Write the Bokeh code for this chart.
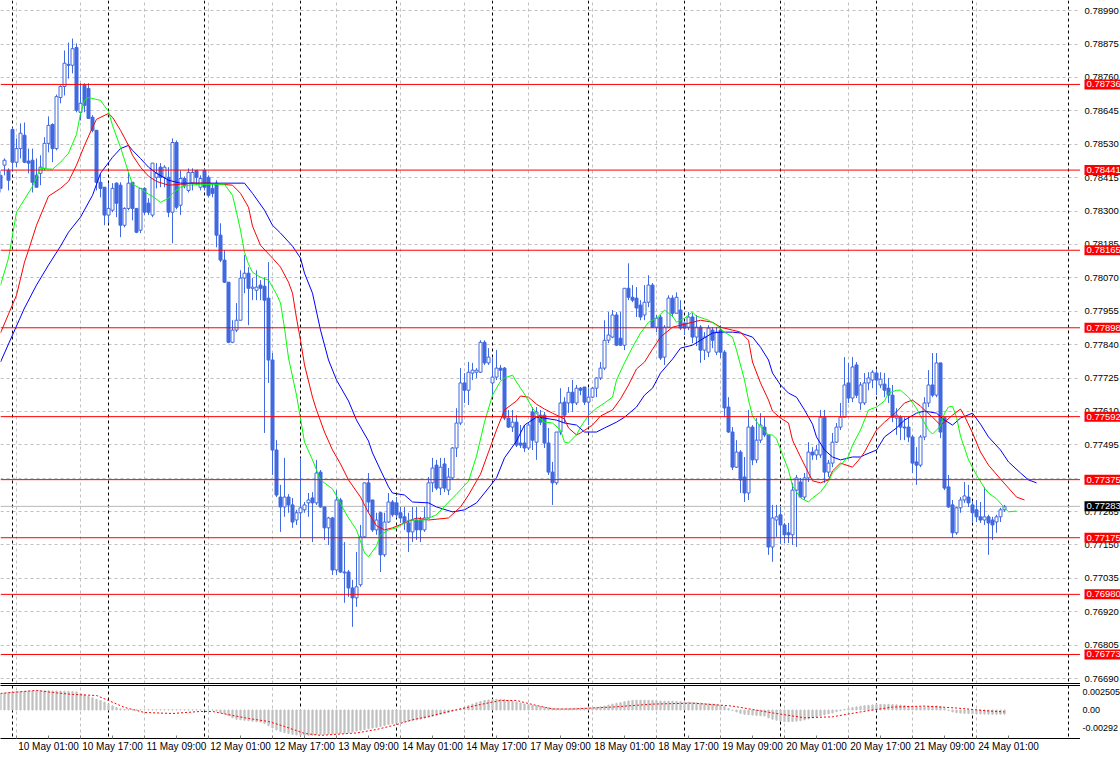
from bokeh.plotting import figure
from bokeh.layouts import column, row
from bokeh.models import Range1d, FixedTicker, Span, ColumnDataSource, LinearAxis
from bokeh.core.properties import value
from bokeh.embed import file_html
from bokeh.resources import INLINE

# ---------------- data (H1 bars, index 0 = 10 May 00:00) ----------------
first_bar = -3
opens = [
 0.78423,0.78458,0.78440,0.78581,0.78468,0.78515,0.78561,0.78472,0.78475,0.78423,
 0.78430,0.78447,0.78533,0.78598,0.78515,0.78691,0.78729,0.78805,0.78802,0.78863,
 0.78640,0.78733,0.78722,0.78623,0.78578,0.78399,0.78382,0.78286,0.78303,0.78396,
 0.78389,0.78251,0.78309,0.78399,0.78309,0.78234,0.78378,0.78327,0.78286,0.78416,
 0.78451,0.78416,0.78416,0.78296,0.78536,0.78320,0.78412,0.78371,0.78396,0.78440,
 0.78382,0.78440,0.78416,0.78378,0.78396,0.78217,0.78131,0.78055,0.77848,0.77890,
 0.77924,0.78069,0.78086,0.78034,0.78027,0.78045,0.78041,0.78000,0.77787,0.77477,
 0.77315,0.77281,0.77315,0.77288,0.77236,0.77261,0.77271,0.77295,0.77312,0.77295,
 0.77401,0.77281,0.77209,0.77243,0.77064,0.77305,0.77057,0.77057,0.77002,0.76968,
 0.77013,0.77178,0.77364,0.77305,0.77202,0.77261,0.77116,0.77229,0.77298,0.77295,
 0.77261,0.77247,0.77226,0.77195,0.77236,0.77236,0.77202,0.77243,0.77364,0.77425,
 0.77346,0.77429,0.77339,0.77381,0.77484,0.77570,0.77708,0.77683,0.77742,0.77745,
 0.77745,0.77848,0.77777,0.77708,0.77728,0.77759,0.77759,0.77587,0.77556,0.77573,
 0.77501,0.77501,0.77484,0.77608,0.77504,0.77597,0.77597,0.77501,0.77401,0.77364,
 0.77539,0.77642,0.77639,0.77676,0.77639,0.77690,0.77694,0.77642,0.77659,0.77690,
 0.77725,0.77759,0.77855,0.77866,0.77942,0.77862,0.77838,0.78034,0.78003,0.78000,
 0.77976,0.77942,0.77986,0.78045,0.77900,0.77935,0.77797,0.77900,0.78000,0.77948,
 0.77959,0.77914,0.77900,0.77935,0.77866,0.77900,0.77821,0.77814,0.77890,0.77814,
 0.77890,0.77814,0.77625,0.77539,0.77418,0.77470,0.77384,0.77329,0.77556,0.77443,
 0.77511,0.77556,0.77529,0.77143,0.77236,0.77254,0.77219,0.77192,0.77185,0.77339,
 0.77367,0.77315,0.77381,0.77470,0.77460,0.77460,0.77590,0.77401,0.77432,0.77504,
 0.77556,0.77590,0.77708,0.77656,0.77770,0.77639,0.77639,0.77708,0.77718,0.77742,
 0.77701,0.77704,0.77690,0.77666,0.77587,0.77590,0.77556,0.77556,0.77522,0.77436,
 0.77425,0.77522,0.77639,0.77701,0.77666,0.77777,0.77590,0.77350,0.77288,0.77192,
 0.77278,0.77305,0.77315,0.77288,0.77271,0.77247,0.77236,0.77247,0.77236,0.77229,
 0.77247,0.77271]
highs = [
 0.78440,0.78481,0.78447,0.78588,0.78550,0.78602,0.78605,0.78515,0.78515,0.78481,
 0.78492,0.78554,0.78626,0.78602,0.78701,0.78733,0.78853,0.78880,0.78894,0.78877,
 0.78740,0.78740,0.78740,0.78630,0.78578,0.78430,0.78382,0.78396,0.78396,0.78399,
 0.78399,0.78313,0.78433,0.78399,0.78309,0.78378,0.78382,0.78344,0.78465,0.78465,
 0.78465,0.78458,0.78451,0.78550,0.78543,0.78440,0.78419,0.78447,0.78447,0.78440,
 0.78423,0.78447,0.78423,0.78396,0.78406,0.78258,0.78165,0.78055,0.77924,0.77983,
 0.78096,0.78148,0.78107,0.78069,0.78096,0.78062,0.78072,0.78124,0.77811,0.77511,
 0.77357,0.77450,0.77325,0.77312,0.77271,0.77450,0.77298,0.77329,0.77332,0.77443,
 0.77408,0.77281,0.77247,0.77247,0.77339,0.77312,0.77160,0.77064,0.77030,0.77126,
 0.77219,0.77364,0.77398,0.77305,0.77261,0.77264,0.77261,0.77329,0.77305,0.77315,
 0.77281,0.77281,0.77261,0.77281,0.77281,0.77247,0.77281,0.77384,0.77450,0.77443,
 0.77450,0.77450,0.77415,0.77487,0.77621,0.77759,0.77742,0.77780,0.77777,0.77759,
 0.77855,0.77855,0.77828,0.77794,0.77821,0.77770,0.77763,0.77615,0.77615,0.77597,
 0.77563,0.77563,0.77570,0.77625,0.77625,0.77615,0.77608,0.77553,0.77436,0.77539,
 0.77690,0.77659,0.77694,0.77718,0.77701,0.77694,0.77694,0.77690,0.77694,0.77728,
 0.77780,0.77924,0.77952,0.77959,0.77952,0.77952,0.78034,0.78120,0.78045,0.78038,
 0.77993,0.78045,0.78079,0.78052,0.77942,0.77942,0.77907,0.78010,0.78010,0.78020,
 0.77993,0.77917,0.77952,0.77948,0.77942,0.77907,0.77883,0.77907,0.77900,0.77900,
 0.77907,0.77821,0.77659,0.77556,0.77511,0.77477,0.77453,0.77615,0.77563,0.77587,
 0.77604,0.77590,0.77529,0.77288,0.77288,0.77281,0.77226,0.77226,0.77364,0.77391,
 0.77381,0.77398,0.77504,0.77487,0.77494,0.77615,0.77615,0.77443,0.77536,0.77570,
 0.77639,0.77797,0.77777,0.77797,0.77780,0.77711,0.77742,0.77745,0.77752,0.77752,
 0.77745,0.77742,0.77725,0.77701,0.77621,0.77597,0.77590,0.77590,0.77529,0.77487,
 0.77529,0.77659,0.77752,0.77811,0.77811,0.77777,0.77590,0.77391,0.77305,0.77281,
 0.77315,0.77367,0.77357,0.77298,0.77305,0.77298,0.77350,0.77254,0.77247,0.77254,
 0.77278,0.77288]
lows = [
 0.78364,0.78423,0.78371,0.78440,0.78451,0.78481,0.78465,0.78430,0.78364,0.78382,
 0.78389,0.78440,0.78502,0.78468,0.78509,0.78671,0.78698,0.78756,0.78774,0.78640,
 0.78612,0.78640,0.78619,0.78571,0.78371,0.78347,0.78251,0.78258,0.78296,0.78279,
 0.78210,0.78244,0.78303,0.78268,0.78224,0.78224,0.78286,0.78286,0.78279,0.78378,
 0.78382,0.78382,0.78279,0.78189,0.78306,0.78286,0.78378,0.78364,0.78371,0.78389,
 0.78371,0.78371,0.78347,0.78347,0.78175,0.78124,0.78052,0.77845,0.77845,0.77883,
 0.77924,0.78017,0.77907,0.77993,0.77993,0.77993,0.77536,0.77708,0.77391,0.77315,
 0.77195,0.77247,0.77261,0.77209,0.77219,0.77174,0.77261,0.77247,0.77160,0.77288,
 0.77278,0.77167,0.77150,0.77047,0.77047,0.77054,0.76951,0.76971,0.76868,0.76937,
 0.77006,0.77174,0.77261,0.77195,0.77185,0.77057,0.77109,0.77226,0.77247,0.77243,
 0.77226,0.77202,0.77126,0.77160,0.77167,0.77160,0.77195,0.77243,0.77332,0.77339,
 0.77322,0.77332,0.77322,0.77374,0.77453,0.77563,0.77639,0.77632,0.77718,0.77725,
 0.77742,0.77770,0.77770,0.77666,0.77718,0.77718,0.77580,0.77553,0.77539,0.77487,
 0.77484,0.77470,0.77477,0.77477,0.77443,0.77563,0.77484,0.77391,0.77288,0.77357,
 0.77529,0.77570,0.77605,0.77608,0.77632,0.77666,0.77632,0.77563,0.77656,0.77659,
 0.77718,0.77752,0.77845,0.77862,0.77835,0.77835,0.77821,0.77993,0.77986,0.77935,
 0.77924,0.77924,0.77969,0.77897,0.77883,0.77787,0.77770,0.77900,0.77935,0.77948,
 0.77890,0.77873,0.77890,0.77845,0.77835,0.77777,0.77787,0.77797,0.77828,0.77804,
 0.77794,0.77590,0.77536,0.77408,0.77415,0.77329,0.77298,0.77305,0.77425,0.77432,
 0.77501,0.77522,0.77116,0.77092,0.77178,0.77157,0.77157,0.77157,0.77150,0.77143,
 0.77312,0.77305,0.77367,0.77443,0.77443,0.77450,0.77364,0.77384,0.77418,0.77501,
 0.77546,0.77590,0.77639,0.77642,0.77656,0.77615,0.77632,0.77683,0.77690,0.77666,
 0.77690,0.77659,0.77639,0.77573,0.77529,0.77511,0.77511,0.77504,0.77398,0.77357,
 0.77418,0.77511,0.77625,0.77659,0.77659,0.77518,0.77339,0.77278,0.77174,0.77185,
 0.77261,0.77295,0.77281,0.77229,0.77229,0.77226,0.77219,0.77116,0.77167,0.77192,
 0.77229,0.77264]
closes = [
 0.78378,0.78475,0.78406,0.78468,0.78515,0.78568,0.78468,0.78465,0.78399,0.78382,
 0.78451,0.78533,0.78595,0.78515,0.78694,0.78729,0.78809,0.78802,0.78859,0.78647,
 0.78671,0.78664,0.78619,0.78578,0.78399,0.78378,0.78286,0.78309,0.78378,0.78327,
 0.78251,0.78309,0.78396,0.78309,0.78227,0.78378,0.78296,0.78296,0.78465,0.78430,
 0.78416,0.78451,0.78296,0.78536,0.78313,0.78412,0.78389,0.78433,0.78433,0.78416,
 0.78412,0.78382,0.78354,0.78361,0.78217,0.78131,0.78055,0.77848,0.77890,0.77924,
 0.78069,0.78086,0.78034,0.78038,0.78038,0.78034,0.77993,0.77787,0.77477,0.77322,
 0.77281,0.77315,0.77288,0.77229,0.77261,0.77278,0.77288,0.77305,0.77295,0.77398,
 0.77281,0.77209,0.77243,0.77064,0.77305,0.77057,0.77054,0.77002,0.76968,0.77006,
 0.77178,0.77364,0.77298,0.77202,0.77236,0.77116,0.77229,0.77298,0.77254,0.77254,
 0.77243,0.77226,0.77195,0.77236,0.77202,0.77202,0.77243,0.77364,0.77415,0.77346,
 0.77418,0.77346,0.77384,0.77484,0.77570,0.77708,0.77683,0.77745,0.77752,0.77752,
 0.77848,0.77777,0.77797,0.77728,0.77759,0.77752,0.77587,0.77556,0.77573,0.77494,
 0.77494,0.77484,0.77563,0.77511,0.77608,0.77573,0.77501,0.77401,0.77364,0.77539,
 0.77639,0.77597,0.77676,0.77639,0.77690,0.77683,0.77642,0.77659,0.77690,0.77725,
 0.77759,0.77855,0.77873,0.77942,0.77838,0.77838,0.78034,0.78003,0.77993,0.77966,
 0.77935,0.77986,0.78045,0.77900,0.77931,0.77794,0.77900,0.78000,0.77948,0.78003,
 0.77897,0.77897,0.77935,0.77866,0.77900,0.77821,0.77866,0.77897,0.77855,0.77883,
 0.77814,0.77622,0.77539,0.77418,0.77470,0.77374,0.77329,0.77556,0.77443,0.77511,
 0.77563,0.77529,0.77143,0.77243,0.77247,0.77219,0.77185,0.77185,0.77339,0.77381,
 0.77315,0.77381,0.77470,0.77460,0.77477,0.77590,0.77401,0.77432,0.77504,0.77556,
 0.77590,0.77701,0.77656,0.77763,0.77666,0.77701,0.77708,0.77725,0.77745,0.77718,
 0.77721,0.77683,0.77666,0.77590,0.77597,0.77556,0.77553,0.77522,0.77432,0.77425,
 0.77522,0.77639,0.77701,0.77666,0.77777,0.77539,0.77346,0.77281,0.77192,0.77278,
 0.77305,0.77319,0.77295,0.77261,0.77247,0.77236,0.77247,0.77226,0.77219,0.77247,
 0.77271,0.77283]

# Alligator lines (bar index, value)
lips_bars = [-3,-1,1,5,7,10,12,14,16,17,18,19,22,24,25,27,29,30,32,34,35,37,39,40,42,44,47,50,53,55,56,57,58,59,60,62,64,66,67,68,69,71,73,75,77,80,81,83,84,86,88,89,91,92,94,96,98,99,103,106,110,111,114,116,118,120,122,123,125,126,128,130,132,133,135,137,138,139,141,142,144,146,148,150,151,153,155,157,159,161,163,165,166,168,170,171,174,176,178,180,181,183,184,185,187,189,190,191,193,194,195,197,199,200,202,204,205,207,209,210,212,214,216,218,219,221,222,224,226,227,229,230,232,233,234,235,236,237,239,241,243,244,246,248,249,251]
lips_vals = [0.78045,0.78137,0.78296,0.78385,0.78447,0.78444,0.78468,0.78499,0.78564,0.78636,0.78681,0.78691,0.78681,0.78643,0.78595,0.78519,0.78433,0.78392,0.78378,0.78358,0.78351,0.78330,0.78344,0.78361,0.78382,0.78389,0.78392,0.78392,0.78392,0.78354,0.78296,0.78234,0.78158,0.78117,0.78089,0.78072,0.78062,0.78014,0.77983,0.77897,0.77794,0.77666,0.77504,0.77443,0.77374,0.77343,0.77319,0.77267,0.77243,0.77202,0.77123,0.77109,0.77147,0.77185,0.77202,0.77209,0.77226,0.77236,0.77236,0.77254,0.77312,0.77325,0.77370,0.77456,0.77573,0.77666,0.77714,0.77725,0.77735,0.77711,0.77670,0.77621,0.77584,0.77573,0.77570,0.77546,0.77504,0.77501,0.77529,0.77556,0.77597,0.77621,0.77639,0.77659,0.77718,0.77777,0.77831,0.77880,0.77917,0.77931,0.77959,0.77938,0.77917,0.77931,0.77952,0.77938,0.77924,0.77907,0.77883,0.77866,0.77821,0.77718,0.77649,0.77594,0.77556,0.77529,0.77529,0.77515,0.77443,0.77408,0.77353,0.77312,0.77298,0.77312,0.77332,0.77370,0.77398,0.77425,0.77456,0.77494,0.77546,0.77615,0.77625,0.77646,0.77673,0.77683,0.77683,0.77659,0.77621,0.77594,0.77546,0.77532,0.77560,0.77604,0.77625,0.77628,0.77590,0.77525,0.77443,0.77391,0.77346,0.77329,0.77309,0.77278,0.77264,0.77267]
teeth_bars = [-3,1,3,4,6,9,12,14,16,18,20,21,24,25,27,29,30,32,34,36,39,42,45,49,55,57,59,60,62,65,67,69,70,71,72,73,75,76,78,80,82,84,87,89,91,93,95,98,101,104,109,112,114,117,119,121,123,126,127,129,131,133,135,138,139,141,142,145,147,150,152,154,156,158,160,162,165,167,170,172,175,177,180,182,184,185,187,189,190,192,194,195,197,199,200,202,204,205,207,210,212,213,216,218,221,223,225,227,230,232,233,235,237,238,240,242,244,247,249,251,253]
teeth_vals = [0.77880,0.78010,0.78124,0.78165,0.78251,0.78351,0.78378,0.78402,0.78458,0.78526,0.78588,0.78616,0.78636,0.78623,0.78578,0.78526,0.78492,0.78451,0.78420,0.78402,0.78389,0.78392,0.78396,0.78396,0.78389,0.78361,0.78313,0.78248,0.78182,0.78138,0.78107,0.78055,0.78017,0.77931,0.77855,0.77770,0.77659,0.77615,0.77539,0.77477,0.77429,0.77374,0.77315,0.77261,0.77216,0.77202,0.77209,0.77226,0.77243,0.77236,0.77243,0.77281,0.77322,0.77394,0.77470,0.77546,0.77615,0.77646,0.77663,0.77659,0.77635,0.77618,0.77604,0.77584,0.77553,0.77529,0.77536,0.77563,0.77594,0.77615,0.77653,0.77701,0.77756,0.77780,0.77824,0.77866,0.77900,0.77907,0.77917,0.77924,0.77917,0.77900,0.77890,0.77883,0.77855,0.77780,0.77708,0.77649,0.77611,0.77587,0.77570,0.77511,0.77453,0.77398,0.77371,0.77364,0.77374,0.77405,0.77432,0.77418,0.77450,0.77470,0.77546,0.77573,0.77608,0.77639,0.77649,0.77628,0.77590,0.77563,0.77573,0.77597,0.77618,0.77594,0.77536,0.77470,0.77425,0.77377,0.77346,0.77315,0.77305]
jaw_bars = [-3,0,3,6,9,12,14,17,20,22,25,27,29,30,32,34,36,39,42,47,51,58,60,63,65,67,70,72,73,75,77,79,81,84,86,89,90,92,94,95,98,100,104,106,110,113,116,118,121,123,126,128,131,133,136,138,141,143,146,148,151,153,156,158,160,162,165,167,170,172,175,177,180,182,185,187,189,190,192,194,196,198,200,201,203,205,207,210,212,213,216,218,221,223,226,228,231,233,235,237,240,242,244,247,249,252,254,256]
jaw_vals = [0.77780,0.77873,0.77966,0.78045,0.78114,0.78179,0.78227,0.78279,0.78354,0.78430,0.78485,0.78515,0.78526,0.78509,0.78481,0.78451,0.78430,0.78406,0.78396,0.78396,0.78396,0.78396,0.78361,0.78303,0.78251,0.78224,0.78179,0.78138,0.78086,0.78017,0.77890,0.77787,0.77718,0.77646,0.77580,0.77508,0.77467,0.77408,0.77350,0.77329,0.77322,0.77298,0.77295,0.77281,0.77264,0.77271,0.77295,0.77329,0.77381,0.77450,0.77508,0.77563,0.77590,0.77587,0.77580,0.77570,0.77563,0.77539,0.77539,0.77553,0.77573,0.77590,0.77625,0.77666,0.77690,0.77742,0.77790,0.77828,0.77838,0.77855,0.77880,0.77883,0.77883,0.77880,0.77866,0.77831,0.77787,0.77742,0.77701,0.77673,0.77659,0.77615,0.77566,0.77522,0.77477,0.77453,0.77443,0.77453,0.77453,0.77460,0.77477,0.77522,0.77553,0.77580,0.77604,0.77611,0.77604,0.77580,0.77563,0.77587,0.77604,0.77566,0.77522,0.77477,0.77436,0.77398,0.77374,0.77364]

# MACD histogram (one value per bar) and signal line points
macd_hist = [
 0.00170,0.00175,0.00180,0.00184,0.00188,0.00190,0.00192,0.00194,0.00195,0.00196,
 0.00197,0.00197,0.00196,0.00195,0.00194,0.00193,0.00192,0.00190,0.00188,0.00185,
 0.00170,0.00155,0.00140,0.00125,0.00110,0.00097,0.00080,0.00060,0.00042,0.00025,
 0.00012,0.00006,0.00003,0.00002,0.00002,0.00002,0.00002,0.00002,0.00002,0.00002,
 0.00002,0.00002,0.00002,0.00002,0.00002,0.00002,0.00002,0.00002,0.00002,0.00002,
 0.00002,0.00002,0.00001,0.00000,-0.00010,-0.00025,-0.00040,-0.00060,-0.00080,-0.00095,
 -0.00100,-0.00105,-0.00110,-0.00115,-0.00120,-0.00125,-0.00140,-0.00160,-0.00185,-0.00205,
 -0.00220,-0.00232,-0.00242,-0.00250,-0.00256,-0.00258,-0.00260,-0.00260,-0.00258,-0.00255,
 -0.00252,-0.00250,-0.00248,-0.00247,-0.00245,-0.00242,-0.00238,-0.00232,-0.00225,-0.00216,
 -0.00208,-0.00200,-0.00192,-0.00185,-0.00178,-0.00170,-0.00160,-0.00150,-0.00142,-0.00135,
 -0.00128,-0.00122,-0.00116,-0.00110,-0.00102,-0.00094,-0.00085,-0.00075,-0.00065,-0.00055,
 -0.00045,-0.00035,-0.00025,-0.00012,-0.00002,0.00012,0.00030,0.00045,0.00060,0.00075,
 0.00088,0.00097,0.00103,0.00108,0.00110,0.00110,0.00105,0.00098,0.00090,0.00082,
 0.00072,0.00062,0.00055,0.00048,0.00042,0.00036,0.00030,0.00024,0.00018,0.00014,
 0.00012,0.00012,0.00014,0.00016,0.00018,0.00020,0.00021,0.00022,0.00024,0.00027,
 0.00032,0.00040,0.00050,0.00060,0.00068,0.00075,0.00085,0.00093,0.00098,0.00100,
 0.00100,0.00100,0.00100,0.00098,0.00096,0.00092,0.00090,0.00090,0.00090,0.00088,
 0.00085,0.00082,0.00080,0.00076,0.00073,0.00070,0.00066,0.00063,0.00060,0.00056,
 0.00050,0.00035,0.00015,-0.00005,-0.00020,-0.00035,-0.00045,-0.00048,-0.00052,-0.00056,
 -0.00058,-0.00062,-0.00080,-0.00095,-0.00105,-0.00112,-0.00118,-0.00120,-0.00118,-0.00114,
 -0.00110,-0.00102,-0.00092,-0.00082,-0.00072,-0.00060,-0.00050,-0.00040,-0.00030,-0.00018,
 -0.00008,0.00005,0.00015,0.00025,0.00032,0.00038,0.00043,0.00048,0.00052,0.00055,
 0.00057,0.00058,0.00058,0.00056,0.00053,0.00049,0.00045,0.00040,0.00035,0.00032,
 0.00030,0.00032,0.00036,0.00040,0.00042,0.00035,0.00015,-0.00005,-0.00020,-0.00028,
 -0.00032,-0.00035,-0.00037,-0.00038,-0.00040,-0.00041,-0.00042,-0.00043,-0.00044,-0.00044,
 -0.00044,-0.00043]
signal_bars = [-3,6,10,15,21,24,28,33,40,47,50,55,59,64,68,73,77,86,91,96,100,104,108,113,117,122,126,131,135,140,150,160,170,180,190,198,205,212,220,228,236,244,248]
signal_vals = [0.00169,0.00200,0.00179,0.00159,0.00148,0.00097,0.00026,-0.00026,-0.00036,-0.00015,-0.00015,-0.00056,-0.00087,-0.00118,-0.00169,-0.00240,-0.00260,-0.00235,-0.00200,-0.00150,-0.00100,-0.00067,-0.00026,0.00020,0.00056,0.00097,0.00097,0.00046,0.00010,0.00010,0.00030,0.00060,0.00070,0.00040,-0.00030,-0.00080,-0.00070,-0.00020,0.00030,0.00040,0.00020,-0.00010,-0.00020]

levels = [0.78736, 0.78441, 0.78165, 0.77898, 0.77592, 0.77375, 0.77175, 0.76980, 0.76773]
last_price = 0.77283
price_ticks = [0.78990, 0.78875, 0.78760, 0.78645, 0.78530, 0.78415, 0.78300, 0.78185, 0.78070,
               0.77955, 0.77840, 0.77725, 0.77610, 0.77495, 0.77380, 0.77265, 0.77150, 0.77035,
               0.76920, 0.76805, 0.76690]
time_tick_bars = [1, 17, 33, 49, 65, 81, 97, 113, 129, 145, 161, 177, 193, 209, 225, 241]
time_labels = ["10 May 01:00", "10 May 17:00", "11 May 09:00", "12 May 01:00", "12 May 17:00",
               "13 May 09:00", "14 May 01:00", "14 May 17:00", "17 May 09:00", "18 May 01:00",
               "18 May 17:00", "19 May 09:00", "20 May 01:00", "20 May 17:00", "21 May 09:00",
               "24 May 01:00"]
separator_bars = [0, 24, 48, 72, 96, 120, 144, 168, 192, 216, 240, 264]
macd_label_levels = [0.00179, 0.0, -0.00189]
macd_labels = ["0.002505", "0.00", "-0.00292"]

n = len(opens)
assert len(highs) == n and len(lows) == n and len(closes) == n and len(macd_hist) == n
assert len(lips_bars) == len(lips_vals) and len(teeth_bars) == len(teeth_vals)
assert len(jaw_bars) == len(jaw_vals) and len(signal_bars) == len(signal_vals)

bars = list(range(first_bar, first_bar + n))
FONT = value("Liberation Sans")
AXFONT = "Liberation Sans"
FS = "10px"
PFS = "9.5px"
BLUE = "#4169e1"
GRID = "#c0c0c0"
LABEL_SHIFT = 8   # time labels start just right of their tick, as in the terminal

src = ColumnDataSource(dict(
    x=bars, o=opens, h=highs, l=lows, c=closes,
    top=[max(a, b) for a, b in zip(opens, closes)],
    bottom=[min(a, b) for a, b in zip(opens, closes)],
    fill=["white" if c >= o else BLUE for o, c in zip(opens, closes)],
))

x_range = Range1d(-3, 267)
price_range = Range1d(0.76673, 0.79025)


def bare_axis(ax):
    ax.ticker = FixedTicker(ticks=[])
    ax.major_tick_out = 0
    ax.major_tick_in = 0
    ax.minor_tick_out = 0
    ax.minor_tick_in = 0
    ax.major_label_standoff = 0
    ax.axis_line_color = "black"


# ---------------- main price chart ----------------
p = figure(frame_width=1080, frame_height=683, x_range=x_range, y_range=price_range,
           output_backend="svg", toolbar_location=None, y_axis_location="right",
           min_border_left=0, min_border_top=0, min_border_right=0, min_border_bottom=2,
           outline_line_color=None, background_fill_color="white", border_fill_color="white")

p.xgrid.ticker = FixedTicker(ticks=time_tick_bars)
p.ygrid.ticker = FixedTicker(ticks=price_ticks)
for g in (p.xgrid, p.ygrid):
    g.grid_line_color = GRID
    g.grid_line_dash = "3 3"
    g.grid_line_width = 1
bare_axis(p.below[0])
bare_axis(p.right[0])

for b in separator_bars:
    p.add_layout(Span(location=b, dimension="height", line_color="black", line_dash="3 3",
                      line_width=1, level="underlay"))
p.add_layout(Span(location=last_price, dimension="width", line_color="#b8b8b8", line_width=1,
                  level="underlay"))

p.segment(x0="x", y0="l", x1="x", y1="h", color=BLUE, line_width=1, source=src)
p.vbar(x="x", width=0.75, top="top", bottom="bottom", fill_color="fill", line_color=BLUE,
       line_width=1, source=src)

p.line(jaw_bars, jaw_vals, line_color="#0000ff", line_width=1)
p.line(teeth_bars, teeth_vals, line_color="#ff0000", line_width=1)
p.line(lips_bars, lips_vals, line_color="#00ff00", line_width=1)

for lv in levels:
    p.add_layout(Span(location=lv, dimension="width", line_color="#ff0000", line_width=1))

# price scale strip (tick labels + level tags), sharing the price scale
ps = figure(frame_width=40, frame_height=683, x_range=Range1d(0, 40), y_range=price_range,
            output_backend="svg", toolbar_location=None, x_axis_location=None, y_axis_location=None,
            min_border_left=0, min_border_top=0, min_border_right=0, min_border_bottom=2,
            outline_line_color=None, background_fill_color="white", border_fill_color="white")
ps.xgrid.visible = False
ps.ygrid.visible = False
ps.text(x=[4] * len(price_ticks), y=price_ticks, text=[f"{t:.5f}" for t in price_ticks],
        text_font=FONT, text_font_size=PFS, text_color="black", text_baseline="middle", text_align="left")
ps.text(x=[4] * len(levels), y=levels, text=[f"{lv:.5f}" for lv in levels],
        text_font=FONT, text_font_size=PFS, text_color="white", text_baseline="middle", text_align="left",
        background_fill_color="#ff0000", padding=2)
ps.text(x=[4], y=[last_price], text=[f"{last_price:.5f}"],
        text_font=FONT, text_font_size=PFS, text_color="white", text_baseline="middle", text_align="left",
        background_fill_color="black", padding=2)

# ---------------- MACD panel ----------------
macd_range = Range1d(-0.00292, 0.002505)
q = figure(frame_width=1080, frame_height=53, x_range=x_range, y_range=macd_range,
           output_backend="svg", toolbar_location=None, y_axis_location="right",
           min_border_left=0, min_border_top=0, min_border_right=0, min_border_bottom=0,
           outline_line_color=None, background_fill_color="white", border_fill_color="white")
time_axis = q.below[0]
bare_axis(q.right[0])
top_axis = LinearAxis()
q.add_layout(top_axis, "above")
bare_axis(top_axis)

q.xgrid.ticker = FixedTicker(ticks=time_tick_bars)
q.xgrid.grid_line_color = GRID
q.xgrid.grid_line_dash = "3 3"
q.ygrid.visible = False
for b in separator_bars:
    q.add_layout(Span(location=b, dimension="height", line_color="black", line_dash="3 3",
                      line_width=1, level="underlay"))

q.vbar(x=bars, top=macd_hist, bottom=0, width=0.3, color="#c0c0c0")
q.line(signal_bars, signal_vals, line_color="#ff0000", line_dash="2 2", line_width=1)

time_axis.ticker = FixedTicker(ticks=[b + LABEL_SHIFT for b in time_tick_bars],
                               minor_ticks=time_tick_bars + [b + 8 for b in time_tick_bars])
time_axis.major_label_overrides = {b + LABEL_SHIFT: t for b, t in zip(time_tick_bars, time_labels)}
time_axis.major_label_text_font = AXFONT
time_axis.major_label_text_font_size = FS
time_axis.major_label_text_color = "black"
time_axis.major_tick_in = 0
time_axis.major_tick_out = 0
time_axis.minor_tick_in = 3
time_axis.minor_tick_out = 0
time_axis.minor_tick_line_color = "#808080"
time_axis.major_label_standoff = 2
time_axis.axis_line_color = "black"

qs = figure(frame_width=40, frame_height=53, x_range=Range1d(0, 40), y_range=macd_range,
            output_backend="svg", toolbar_location=None, x_axis_location=None, y_axis_location=None,
            min_border_left=0, min_border_top=0, min_border_right=0, min_border_bottom=0,
            outline_line_color=None, background_fill_color="white", border_fill_color="white")
qs.xgrid.visible = False
qs.ygrid.visible = False
qs.text(x=[2] * len(macd_labels), y=macd_label_levels, text=macd_labels,
        text_font=FONT, text_font_size="9px", text_color="black", text_baseline="middle", text_align="left")

layout = column(row(p, ps, spacing=0), row(q, qs, spacing=0), spacing=0)
open("out.html", "w").write(file_html(layout, INLINE))
